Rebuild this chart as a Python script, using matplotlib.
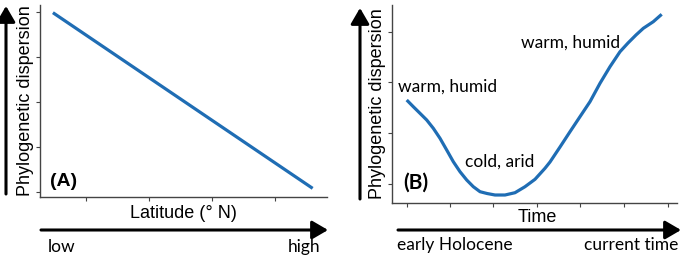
import matplotlib
matplotlib.use("Agg")
import matplotlib.pyplot as plt

# ---------------- data ----------------
# panel A: straight decline with latitude
lat = [0.45, 9.5]
disp_a = [9.6, 0.45]
ticks_a_x = [1.6, 3.8, 6.0, 8.2]
ticks_a_y = [0.25, 2.6, 4.95, 7.3, 9.65]

# panel B: dispersion through the Holocene
time_b = [0.516, 0.747, 0.982, 1.218, 1.449, 1.684, 1.919, 2.151, 2.386,
          2.621, 2.853, 3.088, 3.333, 3.614, 3.965, 4.316, 4.667, 5.018,
          5.368, 5.544, 5.895, 6.246, 6.596, 6.947, 7.298, 7.649, 8.000,
          8.281, 8.561, 8.818, 9.168, 9.463]
disp_b = [5.202, 4.864, 4.530, 4.192, 3.773, 3.268, 2.677, 2.086, 1.581,
          1.162, 0.823, 0.571, 0.480, 0.404, 0.404, 0.520, 0.823, 1.197,
          1.753, 2.071, 2.828, 3.601, 4.359, 5.116, 6.045, 6.884, 7.641,
          8.081, 8.485, 8.823, 9.157, 9.530]
ticks_b_x = [0.53, 2.04, 3.54, 5.09, 6.6, 8.14, 9.68]
ticks_b_y = [0.96, 3.54, 6.11, 8.64]

W, H = 685, 258
BLUE = "#1f6db4"
SANS = ["Liberation Sans", "DejaVu Sans"]
CAL = ["Lato", "DejaVu Sans"]

fig = plt.figure(figsize=(W / 100, H / 100), dpi=100)


def fx(px):
    return px / W


def fy(py):
    return 1 - py / H


def make_axes(left, top, right, bottom):
    ax = fig.add_axes([fx(left), fy(bottom), fx(right - left), (bottom - top) / H])
    ax.set_xlim(0, 10)
    ax.set_ylim(0, 10)
    for s in ("top", "right"):
        ax.spines[s].set_visible(False)
    for s in ("left", "bottom"):
        ax.spines[s].set_color("#444444")
        ax.spines[s].set_linewidth(1.0)
    ax.tick_params(direction="out", length=3, width=0.8, color="#444444",
                   labelbottom=False, labelleft=False)
    ax.patch.set_alpha(0)
    return ax


def arrow(x0, y0, x1, y1):
    fig.add_artist(matplotlib.patches.FancyArrowPatch(
        (fx(x0), fy(y0)), (fx(x1), fy(y1)), transform=fig.transFigure,
        arrowstyle="-|>,head_length=6,head_width=3.5", mutation_scale=1.6,
        color="black", lw=2.2, shrinkA=0, shrinkB=0))


# ---------------- panel A ----------------
axA = make_axes(40, 5, 327, 197)
axA.plot(lat, disp_a, color=BLUE, lw=2.3, solid_capstyle="butt")
axA.set_xticks(ticks_a_x)
axA.set_yticks(ticks_a_y)

fig.text(fx(26), fy(101), "Phylogenetic dispersion", rotation=90,
         ha="center", va="center", fontsize=13, family=SANS)
fig.text(fx(183), fy(213), "Latitude (° N)", ha="center", va="center",
         fontsize=13, family=SANS)
fig.text(fx(50), fy(182), "(A)", ha="left", va="center", fontsize=14,
         fontweight="bold", family=SANS)
arrow(6, 194, 6, 6)
arrow(41, 230, 328, 230)
fig.text(fx(48), fy(247), "low", ha="left", va="center", fontsize=12.5, family=CAL)
fig.text(fx(320), fy(247), "high", ha="right", va="center", fontsize=12.5, family=CAL)

# ---------------- panel B ----------------
axB = make_axes(392, 5, 677, 203)
axB.plot(time_b, disp_b, color=BLUE, lw=2.3, solid_capstyle="butt",
         solid_joinstyle="round")
axB.set_xticks(ticks_b_x)
axB.set_yticks(ticks_b_y)

fig.text(fx(378), fy(104), "Phylogenetic dispersion", rotation=90,
         ha="center", va="center", fontsize=13, family=SANS)
fig.text(fx(537), fy(217), "Time", ha="center", va="center", fontsize=13,
         family=SANS)
fig.text(fx(403), fy(183), "(B)", ha="left", va="center", fontsize=15,
         fontweight="bold", family=CAL)
fig.text(fx(398), fy(87), "warm, humid", ha="left", va="center", fontsize=12.5,
         family=CAL)
fig.text(fx(521), fy(43), "warm, humid", ha="left", va="center", fontsize=12.5,
         family=CAL)
fig.text(fx(465), fy(162), "cold, arid", ha="left", va="center", fontsize=12.5,
         family=CAL)
arrow(360, 199, 360, 8)
arrow(398, 230, 681, 230)
fig.text(fx(397), fy(245), "early Holocene", ha="left", va="center",
         fontsize=12.5, family=CAL)
fig.text(fx(678), fy(245), "current time", ha="right", va="center",
         fontsize=12.5, family=CAL)

fig.savefig("out.png", dpi=100)
